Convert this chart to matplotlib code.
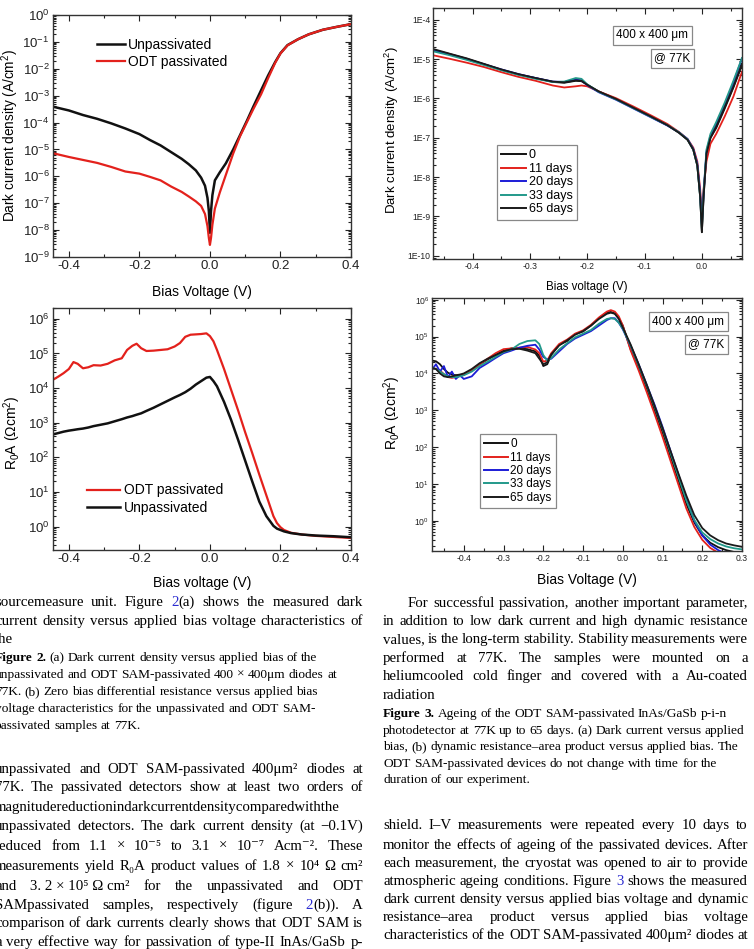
"""Page snippet: passivation figures (dark current / R0A) plus the text around them."""

import re

import matplotlib
matplotlib.use("Agg")
import matplotlib.pyplot as plt
import numpy as np
from matplotlib.lines import Line2D
from matplotlib.ticker import LogLocator, MultipleLocator, NullFormatter

W, H = 754, 949

plt.rcParams["font.family"] = ["Liberation Sans", "DejaVu Sans"]
plt.rcParams["mathtext.fontset"] = "custom"
plt.rcParams["mathtext.rm"] = "Liberation Sans"
plt.rcParams["mathtext.it"] = "Liberation Sans:italic"
plt.rcParams["mathtext.bf"] = "Liberation Sans:bold"
plt.rcParams["axes.unicode_minus"] = False

SERIF = ["Liberation Serif", "DejaVu Serif"]
LINK_BLUE = "#2b2bd0"

# ---- Figure 2(a): dark current density, log10(A/cm2) ----
IV_BIAS = [-0.445, -0.40, -0.36, -0.32, -0.28, -0.24, -0.20, -0.17, -0.14, -0.11,
           -0.08, -0.06, -0.04, -0.025, -0.014, -0.007, -0.003, 0.0, 0.003, 0.007,
           0.014, 0.028, 0.045, 0.066, 0.085, 0.105, 0.123, 0.145, 0.165, 0.185,
           0.20, 0.22, 0.25, 0.28, 0.32, 0.36, 0.40]
IV_UNPASS = [-3.41, -3.55, -3.72, -3.86, -4.03, -4.22, -4.43, -4.65, -4.85, -5.10,
             -5.35, -5.55, -5.78, -6.05, -6.35, -6.80, -7.30, -8.10, -7.30, -6.70,
             -6.15, -5.85, -5.52, -5.00, -4.48, -3.93, -3.41, -2.80, -2.25, -1.75,
             -1.42, -1.12, -0.90, -0.72, -0.55, -0.44, -0.34]
IV_ODT = [-5.14, -5.28, -5.39, -5.50, -5.65, -5.82, -5.90, -6.02, -6.15, -6.38,
          -6.58, -6.75, -6.93, -7.10, -7.40, -7.85, -8.30, -8.55, -8.30, -7.80,
          -7.20, -6.60, -5.95, -5.15, -4.52, -3.98, -3.50, -2.95, -2.35, -1.78,
          -1.43, -1.13, -0.90, -0.72, -0.55, -0.44, -0.34]

# ---- Figure 2(b): R0A, log10(ohm cm2) ----
RA_BIAS = [-0.445, -0.43, -0.415, -0.40, -0.387, -0.375, -0.36, -0.345, -0.33, -0.31,
           -0.29, -0.27, -0.25, -0.235, -0.22, -0.208, -0.195, -0.18, -0.16, -0.14,
           -0.12, -0.10, -0.085, -0.07, -0.055, -0.04, -0.025, -0.01, 0.0, 0.01,
           0.02, 0.04, 0.06, 0.08, 0.10, 0.12, 0.14, 0.16, 0.18, 0.19,
           0.20, 0.21, 0.23, 0.26, 0.30, 0.35, 0.40]
RA_ODT = [4.24, 4.33, 4.43, 4.55, 4.75, 4.70, 4.57, 4.60, 4.66, 4.65,
          4.70, 4.80, 4.86, 5.10, 5.22, 5.28, 5.15, 5.07, 5.08, 5.10,
          5.12, 5.20, 5.30, 5.48, 5.54, 5.55, 5.56, 5.58, 5.50, 5.35,
          5.10, 4.55, 3.95, 3.35, 2.72, 2.12, 1.50, 0.90, 0.30, 0.10,
          -0.02, -0.10, -0.18, -0.23, -0.27, -0.30, -0.33]
RA_UNPASS = [2.66, 2.70, 2.74, 2.77, 2.79, 2.81, 2.83, 2.86, 2.90, 2.94,
             2.98, 3.04, 3.10, 3.15, 3.19, 3.23, 3.27, 3.34, 3.43, 3.53,
             3.63, 3.73, 3.80, 3.88, 3.98, 4.10, 4.20, 4.30, 4.32, 4.20,
             4.05, 3.60, 3.08, 2.50, 1.90, 1.30, 0.72, 0.30, 0.02, -0.06,
             -0.10, -0.14, -0.19, -0.23, -0.26, -0.28, -0.31]

# ---- Figure 3(a): ageing, dark current log10(A/cm2) ----
AGE_LABELS = ["0", "11 days", "20 days", "33 days", "65 days"]
AGE_COLORS = ["#111111", "#e3211c", "#1c1cd6", "#22998a", "#1a1a1a"]

AGE_IV_BIAS = [-0.469, -0.44, -0.41, -0.38, -0.35, -0.32, -0.29, -0.26, -0.24, -0.22,
               -0.21, -0.20, -0.18, -0.15, -0.12, -0.09, -0.06, -0.04, -0.025, -0.015,
               -0.008, -0.003, 0.0, 0.003, 0.008, 0.015, 0.025, 0.04, 0.055, 0.07]
AGE_IV_D0 = [-4.76, -4.87, -4.99, -5.13, -5.27, -5.39, -5.48, -5.58, -5.60, -5.55,
             -5.56, -5.65, -5.82, -6.01, -6.23, -6.45, -6.68, -6.87, -7.05, -7.30,
             -7.70, -8.50, -9.40, -8.50, -7.40, -7.00, -6.75, -6.25, -5.72, -5.15]
AGE_IV_D11 = [-4.90, -4.99, -5.09, -5.20, -5.33, -5.45, -5.55, -5.67, -5.72, -5.69,
              -5.67, -5.69, -5.82, -5.99, -6.20, -6.42, -6.65, -6.85, -7.03, -7.25,
              -7.60, -8.30, -9.00, -8.30, -7.60, -7.15, -6.90, -6.45, -5.95, -5.32]
AGE_IV_D20 = [-4.78, -4.88, -5.00, -5.13, -5.26, -5.38, -5.48, -5.57, -5.58, -5.52,
              -5.54, -5.66, -5.84, -6.03, -6.25, -6.47, -6.69, -6.86, -7.03, -7.28,
              -7.65, -8.40, -9.20, -8.40, -7.35, -6.95, -6.65, -6.15, -5.60, -4.98]
AGE_IV_D33 = [-4.80, -4.90, -5.02, -5.15, -5.28, -5.40, -5.50, -5.58, -5.57, -5.48,
              -5.50, -5.64, -5.83, -6.02, -6.24, -6.46, -6.68, -6.86, -7.04, -7.30,
              -7.70, -8.50, -9.30, -8.40, -7.30, -6.90, -6.60, -6.10, -5.55, -4.97]
AGE_IV_D65 = [-4.74, -4.86, -4.98, -5.12, -5.26, -5.38, -5.48, -5.57, -5.59, -5.54,
              -5.55, -5.65, -5.82, -6.01, -6.23, -6.45, -6.68, -6.87, -7.05, -7.30,
              -7.70, -8.50, -9.40, -8.50, -7.40, -7.00, -6.72, -6.22, -5.70, -5.12]
C_YTICK_LABELS = ["1E-10", "1E-9", "1E-8", "1E-7", "1E-6", "1E-5", "1E-4"]

# ---- Figure 3(b): ageing, R0A log10(ohm cm2) ----
AGE_RA_BIAS = [-0.48, -0.47, -0.46, -0.45, -0.44, -0.43, -0.42, -0.41, -0.40,
               -0.38, -0.36, -0.34, -0.32, -0.30, -0.28, -0.26, -0.24, -0.22,
               -0.21, -0.20, -0.19,
               -0.18, -0.16, -0.14, -0.12, -0.10, -0.08, -0.06, -0.04,
               -0.03, -0.02, -0.01,
               0.0, 0.02, 0.04, 0.06, 0.08, 0.10, 0.12, 0.14, 0.16, 0.18,
               0.20, 0.22, 0.24, 0.26, 0.28, 0.30]
AGE_RA_D0 = [4.35, 4.33, 4.25, 4.12, 4.02, 3.97, 3.95, 3.95, 3.97,
             4.10, 4.25, 4.38, 4.50, 4.62, 4.68, 4.68, 4.66, 4.60,
             4.48, 4.20, 4.25,
             4.50, 4.78, 4.88, 5.07, 5.14, 5.30, 5.50, 5.66,
             5.67, 5.63, 5.50,
             5.30, 4.65, 4.15, 3.60, 3.00, 2.40, 1.75, 1.10, 0.45, -0.05,
             -0.40, -0.60, -0.72, -0.80, -0.85, -0.88]
AGE_RA_D11 = [4.12, 4.13, 4.08, 3.98, 3.90, 3.88, 3.90, 3.93, 3.96,
              4.08, 4.25, 4.40, 4.55, 4.66, 4.68, 4.70, 4.72, 4.65,
              4.55, 4.32, 4.35,
              4.55, 4.80, 4.92, 5.08, 5.17, 5.32, 5.52, 5.68,
              5.72, 5.68, 5.55,
              5.30, 4.62, 4.08, 3.50, 2.90, 2.28, 1.63, 0.98, 0.33, -0.17,
              -0.52, -0.74, -0.87, -0.96, -1.02, -1.06]
AGE_RA_D20 = [4.10, 4.25, 4.05, 4.20, 3.90, 4.05, 3.85, 3.95, 3.85,
              3.92, 4.15, 4.28, 4.42, 4.55, 4.62, 4.70, 4.75, 4.78,
              4.65, 4.45, 4.38,
              4.40, 4.60, 4.80, 4.95, 5.05, 5.15, 5.30, 5.45,
              5.50, 5.50, 5.38,
              5.20, 4.75, 4.25, 3.70, 3.15, 2.55, 1.90, 1.25, 0.60, 0.00,
              -0.40, -0.65, -0.80, -0.90, -0.95, -1.00]
AGE_RA_D33 = [4.15, 4.12, 4.05, 3.98, 3.92, 3.90, 3.90, 3.92, 3.95,
              4.05, 4.20, 4.32, 4.45, 4.58, 4.65, 4.80, 4.88, 4.90,
              4.80, 4.50, 4.35,
              4.42, 4.65, 4.82, 4.98, 5.08, 5.18, 5.35, 5.48,
              5.50, 5.48, 5.38,
              5.22, 4.75, 4.22, 3.68, 3.10, 2.50, 1.85, 1.20, 0.55, 0.02,
              -0.32, -0.50, -0.62, -0.70, -0.75, -0.78]
AGE_RA_D65 = [4.15, 4.12, 4.00, 3.92, 3.90, 3.92, 3.95, 3.97, 4.00,
              4.12, 4.28, 4.40, 4.50, 4.60, 4.66, 4.67, 4.62, 4.55,
              4.40, 4.25, 4.30,
              4.52, 4.76, 4.90, 5.05, 5.15, 5.30, 5.48, 5.62,
              5.65, 5.62, 5.48,
              5.25, 4.78, 4.25, 3.70, 3.12, 2.52, 1.90, 1.28, 0.68, 0.15,
              -0.20, -0.40, -0.53, -0.62, -0.67, -0.71]

# ---- page text (one entry per printed line; [..] = blue link, * = bold word) ----
LEFT_TOP = [
    ("sourcemeasure unit. Figure [2](a) shows the measured dark", True),
    ("current density versus applied bias voltage characteristics of", True),
    ("the", False),
]
LEFT_CAPTION = [
    "*Figure *2. (a) Dark current density versus applied bias of the",
    "unpassivated and ODT SAM-passivated 400 × 400μm diodes at",
    "77K. (b) Zero bias differential resistance versus applied bias",
    "voltage characteristics for the unpassivated and ODT SAM-",
    "passivated samples at 77K.",
]
LEFT_BODY = [
    ("unpassivated and ODT SAM-passivated 400μm² diodes at", True),
    ("77K. The passivated detectors show at least two orders of", True),
    ("magnitudereductionindarkcurrentdensitycomparedwiththe", False),
    ("unpassivated detectors. The dark current density (at −0.1V)", True),
    ("reduced from 1.1 × 10⁻⁵ to 3.1 × 10⁻⁷ Acm⁻². These", True),
    ("measurements yield R₀A product values of 1.8 × 10⁴ Ω cm²", True),
    ("and 3.\u00a02\u00a0×\u00a010⁵\u00a0Ω\u00a0cm² for the unpassivated and ODT", True),
    ("SAMpassivated samples, respectively (figure [2](b)). A", True),
    ("comparison of dark currents clearly shows that ODT SAM is", True),
    ("a very effective way for passivation of type-II InAs/GaSb p-", True),
]
RIGHT_TOP = [
    ("For successful passivation, another important parameter,", True),
    ("in addition to low dark current and high dynamic resistance", True),
    ("values, is the long-term stability. Stability measurements were", True),
    ("performed at 77K. The samples were mounted on a", True),
    ("heliumcooled cold finger and covered with a Au-coated", True),
    ("radiation", False),
]
RIGHT_CAPTION = [
    "*Figure *3. Ageing of the ODT SAM-passivated InAs/GaSb p-i-n",
    "photodetector at 77K up to 65 days. (a) Dark current versus applied",
    "bias, (b) dynamic resistance–area product versus applied bias. The",
    "ODT SAM-passivated devices do not change with time for the",
    "duration of our experiment.",
]
RIGHT_BODY = [
    ("shield. I–V measurements were repeated every 10 days to", True),
    ("monitor the effects of ageing of the passivated devices. After", True),
    ("each measurement, the cryostat was opened to air to provide", True),
    ("atmospheric ageing conditions. Figure [3] shows the measured", True),
    ("dark current density versus applied bias voltage and dynamic", True),
    ("resistance–area product versus applied bias voltage", True),
    ("characteristics of the ODT SAM-passivated 400μm² diodes at", True),
]


def log_values(values):
    return 10.0 ** np.asarray(values)


def add_axes_px(fig, left, top, right, bottom):
    return fig.add_axes([left / W, 1 - bottom / H, (right - left) / W, (bottom - top) / H])


def style_axes(ax, label_size, x_major, x_minor, pad=2.5):
    ax.set_yscale("log")
    ax.xaxis.set_major_locator(MultipleLocator(x_major))
    ax.xaxis.set_minor_locator(MultipleLocator(x_minor))
    ax.yaxis.set_minor_locator(LogLocator(base=10, subs=np.arange(2, 10) * 1.0, numticks=60))
    ax.yaxis.set_minor_formatter(NullFormatter())
    ax.tick_params(which="both", direction="in", top=True, right=True,
                   labelsize=label_size, width=0.8, pad=pad, colors="#222222")
    ax.tick_params(which="major", length=4.5)
    ax.tick_params(which="minor", length=2.5)
    for spine in ax.spines.values():
        spine.set_linewidth(1.0)
        spine.set_color("#333333")


def age_legend(ax, anchor, size):
    handles = [Line2D([], [], color=c, lw=1.4) for c in AGE_COLORS]
    leg = ax.legend(handles, AGE_LABELS, loc="upper left", bbox_to_anchor=anchor,
                    borderaxespad=0, fontsize=size, handlelength=2.0, handletextpad=0.2,
                    labelspacing=0.12, borderpad=0.35, fancybox=False, framealpha=1)
    leg.get_frame().set_edgecolor("#888888")
    leg.get_frame().set_linewidth(0.9)


def size_box(ax, xy, text):
    ax.text(*xy, text, transform=ax.transAxes, ha="center", va="center", fontsize=8.5,
            bbox=dict(boxstyle="square,pad=0.3", fc="white", ec="#888888", lw=0.9))


fig = plt.figure(figsize=(W / 100, H / 100), dpi=100)
fig.patch.set_facecolor("white")

# Figure 2(a)
ax = add_axes_px(fig, 53, 15, 351, 257)
style_axes(ax, 9.5, 0.2, 0.1)
ax.plot(IV_BIAS, log_values(IV_UNPASS), color="#111111", lw=1.8)
ax.plot(IV_BIAS, log_values(IV_ODT), color="#e3211c", lw=1.6)
ax.set_xlim(-0.445, 0.4)
ax.set_ylim(1e-9, 1e0)
ax.yaxis.set_major_locator(LogLocator(base=10, numticks=20))
ax.set_xlabel("Bias Voltage (V)", fontsize=10, va="center")
ax.set_ylabel("Dark current density (A/cm$^2$)", fontsize=9.8, va="center")
ax.xaxis.set_label_coords(0.5, -0.145)
ax.yaxis.set_label_coords(-0.144, 0.5)
ax.legend([Line2D([], [], color="#111111", lw=1.8), Line2D([], [], color="#e3211c", lw=1.6)],
          ["Unpassivated", "ODT passivated"], loc="upper left", bbox_to_anchor=(0.148, 0.905),
          frameon=False, fontsize=10, borderaxespad=0, borderpad=0,
          handlelength=2.0, handletextpad=0.25, labelspacing=0.22)

# Figure 2(b)
ax = add_axes_px(fig, 53, 308, 351, 550)
style_axes(ax, 9.5, 0.2, 0.1)
ax.plot(RA_BIAS, log_values(RA_ODT), color="#e3211c", lw=1.6)
ax.plot(RA_BIAS, log_values(RA_UNPASS), color="#111111", lw=1.8)
ax.set_xlim(-0.445, 0.4)
ax.set_ylim(0.21, 2.05e6)
ax.yaxis.set_major_locator(LogLocator(base=10, numticks=20))
ax.set_xlabel("Bias voltage (V)", fontsize=10, va="center")
ax.set_ylabel("R$_0$A (Ωcm$^2$)", fontsize=10, va="center")
ax.xaxis.set_label_coords(0.5, -0.136)
ax.yaxis.set_label_coords(-0.138, 0.483)
ax.legend([Line2D([], [], color="#e3211c", lw=1.6), Line2D([], [], color="#111111", lw=1.8)],
          ["ODT passivated", "Unpassivated"], loc="upper left", bbox_to_anchor=(0.114, 0.275),
          frameon=False, fontsize=10, borderaxespad=0, borderpad=0,
          handlelength=2.4, handletextpad=0.25, labelspacing=0.22)

# Figure 3(a)
ax = add_axes_px(fig, 433, 8, 742, 259)
style_axes(ax, 6.2, 0.1, 0.05, pad=2)
for vals, color in zip([AGE_IV_D0, AGE_IV_D11, AGE_IV_D20, AGE_IV_D33, AGE_IV_D65], AGE_COLORS):
    ax.plot(AGE_IV_BIAS, log_values(vals), color=color, lw=1.3)
ax.set_xlim(-0.469, 0.07)
ax.set_ylim(8.3e-11, 2.0e-4)
ax.set_yticks([float(t) for t in C_YTICK_LABELS], labels=C_YTICK_LABELS)
ax.set_xlabel("Bias voltage (V)", fontsize=8.3, va="center")
ax.set_ylabel("Dark current density (A/cm$^2$)", fontsize=9.5, va="center")
ax.xaxis.set_label_coords(0.498, -0.112)
ax.yaxis.set_label_coords(-0.133, 0.514)
age_legend(ax, (0.207, 0.454), 9)
size_box(ax, (0.71, 0.892), "400 x 400 μm")
size_box(ax, (0.775, 0.80), "@ 77K")

# Figure 3(b)
ax = add_axes_px(fig, 432, 298, 742, 551)
style_axes(ax, 6.2, 0.1, 0.05, pad=2)
for vals, color in zip([AGE_RA_D0, AGE_RA_D11, AGE_RA_D20, AGE_RA_D33, AGE_RA_D65], AGE_COLORS):
    ax.plot(AGE_RA_BIAS, log_values(vals), color=color, lw=1.3)
ax.set_xlim(-0.48, 0.3)
ax.set_ylim(0.15, 1.12e6)
ax.yaxis.set_major_locator(LogLocator(base=10, numticks=20))
ax.set_xlabel("Bias Voltage (V)", fontsize=10, va="center")
ax.set_ylabel("R$_0$A (Ωcm$^2$)", fontsize=10, va="center")
ax.xaxis.set_label_coords(0.5, -0.115)
ax.yaxis.set_label_coords(-0.129, 0.545)
age_legend(ax, (0.155, 0.462), 8.5)
size_box(ax, (0.827, 0.907), "400 x 400 μm")
size_box(ax, (0.885, 0.818), "@ 77K")

# ---- running text ----
renderer = fig.canvas.get_renderer()


def place_line(line, x0, x1, y, size, justify):
    """Draw one printed line word by word, spreading words to x1 if justified."""
    words = line.split(" ")
    pieces, widths = [], []
    for word in words:
        bold = word.startswith("*")
        word = word.lstrip("*")
        parts = []
        for part in re.split(r"(\[[^\]]*\])", word):
            if not part:
                continue
            t = fig.text(0, 0, part.strip("[]"), fontsize=size, family=SERIF,
                         fontweight="bold" if bold else "normal",
                         color=LINK_BLUE if part.startswith("[") else "black",
                         ha="left", va="baseline")
            parts.append((t, t.get_window_extent(renderer).width))
        pieces.append(parts)
        widths.append(sum(w for _, w in parts))
    space = size * 100 / 72 * 0.25
    if justify and len(words) > 1:
        gap = max((x1 - x0 - sum(widths)) / (len(words) - 1), space * 0.6)
    else:
        gap = space
    x = x0
    for parts in pieces:
        for t, w in parts:
            t.set_position((x / W, 1 - y / H))
            x += w
        x += gap


BODY_SIZE = 10.7
CAPTION_SIZE = 9.6

for (line, just), y in zip(LEFT_TOP, [606, 625, 643]):
    place_line(line, -5, 363, y, BODY_SIZE, just)
for line, y in zip(LEFT_CAPTION, [661, 678, 695, 712, 729]):
    place_line(line, -5, 363, y, CAPTION_SIZE, False)
for (line, just), y in zip(LEFT_BODY, [773, 791, 811, 830, 850, 870, 890, 909, 927, 946]):
    place_line(line, -5, 363, y, BODY_SIZE, just)

for i, ((line, just), y) in enumerate(zip(RIGHT_TOP, [607, 625, 643, 662, 680, 699])):
    place_line(line, 408 if i == 0 else 383, 748, y, BODY_SIZE, just)
for line, y in zip(RIGHT_CAPTION, [717, 734, 750, 767, 783]):
    place_line(line, 383, 748, y, CAPTION_SIZE, False)
for (line, just), y in zip(RIGHT_BODY, [829, 849, 867, 885, 903, 921, 939]):
    place_line(line, 383, 748, y, BODY_SIZE, just)

fig.savefig("out.png", dpi=100)
